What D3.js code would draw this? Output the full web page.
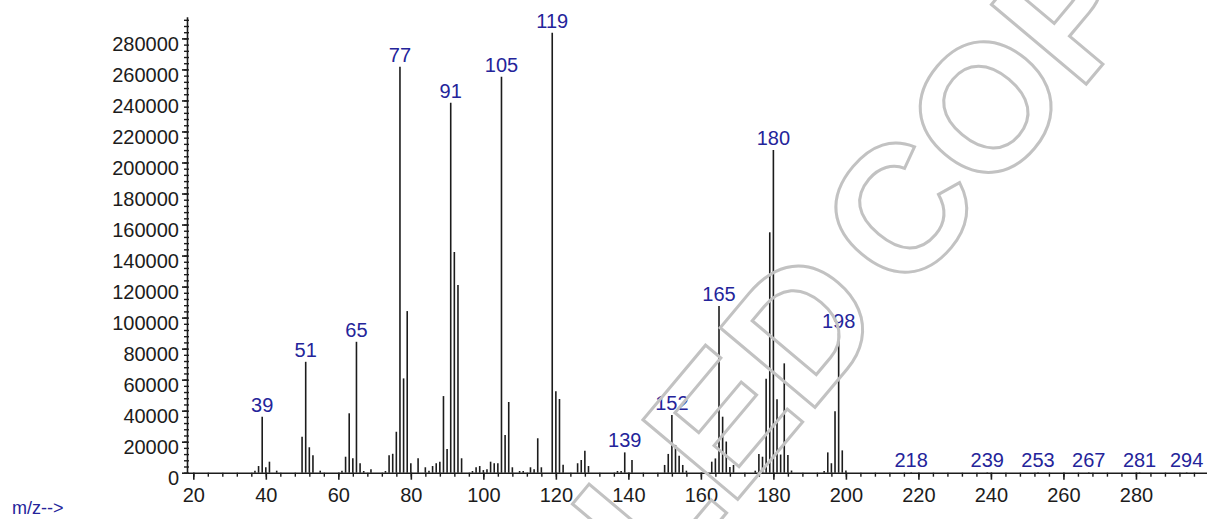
<!DOCTYPE html>
<html>
<head>
<meta charset="utf-8">
<script src="https://cdn.jsdelivr.net/npm/d3@7"></script>
<style>
  html, body { margin: 0; padding: 0; background: #fff; overflow: hidden; }
  svg { display: block; }
  text { font-family: "Liberation Sans", Arial, sans-serif; }
</style>
</head>
<body>
<svg id="chart" width="1207" height="519"></svg>
<script>
// peaks
const mz = [37, 38, 39, 40, 41, 43, 50, 51, 52, 53, 55, 61, 62, 63, 64, 65, 66, 67, 69,
  73, 74, 75, 76, 77, 78, 79, 80, 82, 84, 85, 86, 87, 88, 89, 90, 91, 92, 93, 94,
  97, 98, 99, 100, 101, 102, 103, 104, 105, 106, 107, 108, 110, 111, 113, 114, 115, 116,
  119, 120, 121, 122, 126, 127, 128, 129, 137, 138, 139, 141,
  150, 151, 152, 153, 154, 155, 156, 163, 164, 165, 166, 167, 168, 169,
  175, 176, 177, 178, 179, 180, 181, 182, 183, 184, 185,
  194, 195, 196, 197, 198, 199, 200, 218, 239, 253, 267, 281, 294];
const abundance = [1300, 4300, 36100, 3500, 7100, 1300, 23200, 71500, 16400, 11200, 1300, 1300, 10300, 38300, 9300, 84400, 6100, 1100, 2200,
  1100, 11200, 12200, 26400, 261700, 60800, 104200, 6100, 9300, 3500, 1300, 4300, 6100, 7100, 49400, 15300, 238500, 142300, 121000, 9300,
  1100, 3500, 4300, 1700, 2200, 7100, 6100, 6100, 255300, 24300, 45600, 3500, 1100, 1100, 3500, 2200, 22200, 3500,
  283600, 52500, 47500, 5200, 6100, 8200, 14200, 4300, 1100, 1100, 13100, 8200,
  5000, 12100, 37200, 17900, 11000, 5000, 1300, 7100, 9200, 107400, 36100, 20100, 3700, 5000,
  1300, 12100, 10300, 60600, 155000, 208000, 47300, 11700, 70500, 11400, 1400,
  1100, 13100, 6100, 39600, 89900, 14400, 1400, 300, 300, 300, 300, 300, 300];
const labelledMz = [39, 51, 65, 77, 91, 105, 119, 139, 152, 165, 180, 198, 218, 239, 253, 267, 281, 294];

const xTicks = [20, 40, 60, 80, 100, 120, 140, 160, 180, 200, 220, 240, 260, 280];
const yTicks = [0, 20000, 40000, 60000, 80000, 100000, 120000, 140000, 160000, 180000, 200000, 220000, 240000, 260000, 280000];
const axisTitle = 'm/z-->';
const stampWords = ['CONTROLLED', 'COPY'];

const svg = d3.select('#chart');
const ink = '#1c1c1c';
const blue = '#24249a';

const x = d3.scaleLinear().domain([18.26, 299.6]).range([187, 1207]);
const y = d3.scaleLinear().domain([0, 294000]).range([472.7, 16.7]);

const peaks = mz.map((m, i) => ({ mz: m, v: abundance[i] }));

// bars
svg.append('g')
  .selectAll('line')
  .data(peaks)
  .join('line')
  .attr('x1', d => x(d.mz))
  .attr('x2', d => x(d.mz))
  .attr('y1', y(0))
  .attr('y2', d => y(d.v))
  .attr('stroke', ink)
  .attr('stroke-width', 1.6);

// minor ticks
svg.append('g')
  .attr('transform', `translate(0,${y(0)})`)
  .call(d3.axisBottom(x).tickValues(d3.range(20, 300, 4)).tickSize(4).tickFormat(''))
  .call(g => g.select('.domain').remove())
  .call(g => g.selectAll('line').attr('stroke', ink).attr('stroke-width', 1.4));

svg.append('g')
  .attr('transform', `translate(${x.range()[0]},0)`)
  .call(d3.axisLeft(y).tickValues(d3.range(0, 294000, 4000)).tickSize(3).tickFormat(''))
  .call(g => g.select('.domain').remove())
  .call(g => g.selectAll('line').attr('x2', -3).attr('x1', 2).attr('stroke', ink).attr('stroke-width', 1.4));

// main axes
svg.append('g')
  .attr('transform', `translate(0,${y(0)})`)
  .call(d3.axisBottom(x).tickValues(xTicks).tickSize(7).tickSizeOuter(0).tickPadding(8))
  .call(g => g.select('.domain').attr('stroke', ink).attr('stroke-width', 1.6))
  .call(g => g.selectAll('line').attr('stroke', ink).attr('stroke-width', 1.6))
  .call(g => g.selectAll('text').attr('fill', ink).style('font-size', '20px').style('font-family', '"Liberation Sans", Arial, sans-serif'));

svg.append('g')
  .attr('transform', `translate(${x.range()[0]},0)`)
  .call(d3.axisLeft(y).tickValues(yTicks).tickSize(5).tickSizeOuter(0).tickPadding(3).tickFormat(d3.format('d')))
  .call(g => g.select('.domain').attr('stroke', ink).attr('stroke-width', 1.6))
  .call(g => g.selectAll('line').attr('stroke', ink).attr('stroke-width', 1.6))
  .call(g => g.selectAll('text').attr('fill', ink).attr('dy', '0.58em').style('font-size', '20px').style('font-family', '"Liberation Sans", Arial, sans-serif'));

// peak labels
svg.append('g')
  .selectAll('text')
  .data(peaks.filter(d => labelledMz.includes(d.mz)))
  .join('text')
  .attr('x', d => x(d.mz))
  .attr('y', d => y(d.v) - 5)
  .attr('text-anchor', 'middle')
  .attr('fill', blue)
  .style('font-size', '20px')
  .text(d => d.mz);

svg.append('text')
  .attr('x', 12)
  .attr('y', 514)
  .attr('fill', blue)
  .style('font-size', '18px')
  .text(axisTitle);

// grey outlined stamp across the plot
const stamp = svg.append('g')
  .attr('transform', 'translate(905,300) rotate(-50)')
  .attr('fill', 'none')
  .attr('stroke', '#c2c2c2')
  .attr('stroke-width', 3)
  .style('font-size', '180px')
  .style('font-weight', 'bold');

stamp.append('text').attr('x', -22).attr('text-anchor', 'end').text(stampWords[0]);
stamp.append('text').attr('x', 0).attr('text-anchor', 'start').text(stampWords[1]);
</script>
</body>
</html>
